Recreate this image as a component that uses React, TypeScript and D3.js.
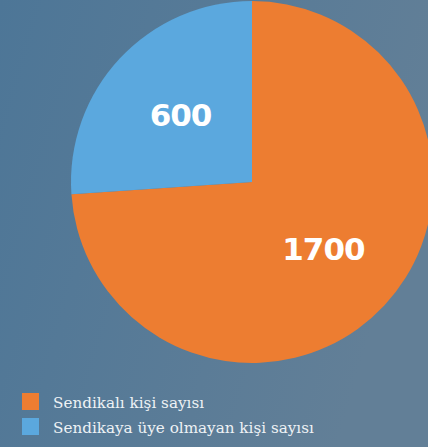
import React from "react";
import * as d3 from "d3";

const categories = ["Sendikalı kişi sayısı", "Sendikaya üye olmayan kişi sayısı"];
const values = [1700, 600];
const colors = ["#ed7d31", "#5ba8de"];

const W = 428;
const H = 447;
const cx = 252;
const cy = 182;
const R = 181;

export default function App() {
  const data = categories.map((c, i) => ({ name: c, value: values[i], color: colors[i] }));
  const pie = d3.pie<any>().sort(null).value((d) => d.value);
  const arcs = pie(data);
  const arc = d3.arc<any>().innerRadius(0).outerRadius(R);
  const labelArc = d3.arc<any>().innerRadius(R * 0.54).outerRadius(R * 0.54);

  return (
    <svg
      width={W}
      height={H}
      style={{ position: "absolute", left: 0, top: 0, display: "block" }}
    >
      <defs>
        <linearGradient id="bg" x1="0" y1="0" x2="1" y2="0.3">
          <stop offset="0" stopColor="#4d7697" />
          <stop offset="1" stopColor="#627f97" />
        </linearGradient>
      </defs>
      <rect x={0} y={0} width={W} height={H} fill="url(#bg)" />
      <g transform={`translate(${cx},${cy})`}>
        {arcs.map((a, i) => (
          <path key={i} d={arc(a) as string} fill={a.data.color} />
        ))}
        {arcs.map((a, i) => {
          const [x, y] = labelArc.centroid(a);
          return (
            <text
              key={"l" + i}
              x={x}
              y={y}
              dy="0.35em"
              textAnchor="middle"
              fill="#ffffff"
              fontFamily="'DejaVu Sans', sans-serif"
              fontWeight="bold"
              fontSize={31}
              letterSpacing={-1}
            >
              {d3.format("d")(a.data.value)}
            </text>
          );
        })}
      </g>
      <g>
        {data.map((d, i) => (
          <g key={"g" + i} transform={`translate(22,${393 + i * 25})`}>
            <rect x={0} y={0} width={17} height={17} fill={d.color} />
            <text
              x={31}
              y={14.5}
              fill="#eef2f5"
              fontFamily="'DejaVu Serif', serif"
              fontSize={15.2}
            >
              {d.name}
            </text>
          </g>
        ))}
      </g>
    </svg>
  );
}
